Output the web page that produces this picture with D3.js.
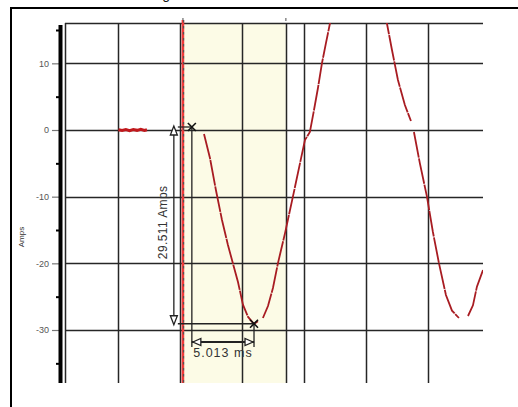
<!DOCTYPE html>
<html>
<head>
<meta charset="utf-8">
<script src="https://cdn.jsdelivr.net/npm/d3@7"></script>
<style>
  body { margin: 0; background: #fff; }
  svg { display: block; font-family: "Liberation Sans", Arial, sans-serif; }
</style>
</head>
<body>
<svg id="chart" width="518" height="407"></svg>
<script>
// waveform (null = gap in the trace)
const timeMs = [
  -5.0, -4.7, -4.4, -4.1, -3.8, -3.5, -3.2, -2.9, -2.7, -2.6,
  1.90, 2.38, 2.86, 3.35, 3.83, 4.23, 4.64, 5.04, 5.44, 5.93, 6.25, 6.4,
  6.65, 7.06, 7.46, 7.86, 8.43, 9.07, 9.64, 10.04, 10.44, 10.77, 11.09, 11.41, 11.73, 12.06,
  12.6, 13.4, 14.3, 15.2, 16.0,
  16.65, 17.06, 17.54, 18.10, 18.59, 18.7,
  18.83, 19.31, 19.88, 20.36, 20.85, 21.41, 21.90, 22.46, 22.8,
  23.19, 23.59, 23.91, 24.40
];
const amps = [
  0.05, -0.08, 0.06, -0.1, 0.08, -0.05, 0.1, -0.06, 0.04, null,
  -0.6, -4.2, -9, -13.5, -17.25, -20, -22.8, -26.2, -28, -29.1, -28.7, null,
  -28.2, -26.4, -23.7, -20, -15.5, -10, -5, -1.5, -0.3, 3, 6.3, 10, 13, 16,
  19.5, 23.5, 25.5, 23.5, 19.5,
  16, 12, 7.5, 3.75, 1.35, null,
  -0.3, -5, -10, -15.3, -20, -24.75, -27.1, -28.2, null,
  -27.9, -26.3, -23.5, -21
];

const yTicks = [-30, -20, -10, 0, 10];
const yMinorTicks = [-35, -25, -15, -5, 5, 15];
const xGridMs = [-5, 0, 5, 10, 15, 20];
const cursorMs = [0.2, 8.5];
const markerMs = [0.92, 5.933];
const markerAmps = [0.45, -29.061];
const deltaLabels = ["29.511 Amps", "5.013 ms"];

const plotLeft = 65, plotRight = 483, plotTop = 23, plotBottom = 383;

const x = d3.scaleLinear().domain([-9.31, 24.4]).range([plotLeft, plotRight]);
const y = d3.scaleLinear().domain([-37.95, 16.05]).range([plotBottom, plotTop]);

const svg = d3.select("#chart");

// cut-off title above the frame
svg.append("text")
    .attr("x", 170).attr("y", -1)
    .attr("text-anchor", "end")
    .style("font-size", "14px")
    .attr("fill", "#111")
    .text("Recording");

// outer frame
svg.append("rect")
    .attr("x", 11).attr("y", 8)
    .attr("width", 530).attr("height", 420)
    .attr("fill", "#fff")
    .attr("stroke", "#000")
    .attr("stroke-width", 2);

// shaded band between cursors
svg.append("rect")
    .attr("x", x(cursorMs[0])).attr("y", plotTop)
    .attr("width", x(cursorMs[1]) - x(cursorMs[0]))
    .attr("height", plotBottom - plotTop)
    .attr("fill", "#fcfbe6");

// grid
const grid = svg.append("g").attr("stroke", "#262626").attr("stroke-width", 1.5);
grid.selectAll("line.h")
    .data(yTicks.concat([y.domain()[1]]))
    .join("line")
    .attr("class", "h")
    .attr("x1", plotLeft).attr("x2", plotRight)
    .attr("y1", d => Math.round(y(d)) + 0.5)
    .attr("y2", d => Math.round(y(d)) + 0.5);
grid.selectAll("line.v")
    .data(xGridMs.concat([cursorMs[1]]))
    .join("line")
    .attr("class", "v")
    .attr("x1", d => Math.round(x(d)) + 0.5)
    .attr("x2", d => Math.round(x(d)) + 0.5)
    .attr("y1", plotTop).attr("y2", plotBottom);
grid.append("line")
    .attr("x1", plotLeft + 0.5).attr("x2", plotLeft + 0.5)
    .attr("y1", plotTop).attr("y2", plotBottom);

// cursor markers above the plot
svg.append("g").selectAll("line")
    .data(cursorMs)
    .join("line")
    .attr("x1", d => x(d)).attr("x2", d => x(d))
    .attr("y1", 18).attr("y2", 21)
    .attr("stroke", "#888").attr("stroke-width", 1.5);

// first cursor: red with grey dashes
svg.append("line")
    .attr("x1", x(cursorMs[0])).attr("x2", x(cursorMs[0]))
    .attr("y1", 20).attr("y2", plotBottom)
    .attr("stroke", "#f03a3a").attr("stroke-width", 2.6);
svg.append("line")
    .attr("x1", x(cursorMs[0]) + 0.6).attr("x2", x(cursorMs[0]) + 0.6)
    .attr("y1", 20).attr("y2", plotBottom)
    .attr("stroke", "#555").attr("stroke-width", 1.2)
    .attr("stroke-dasharray", "2.5,3.5");

// y axis
const axisX = 60;
const yAxis = svg.append("g")
    .attr("transform", `translate(${axisX},0)`)
    .call(d3.axisLeft(y).tickValues(yTicks).tickSize(8).tickPadding(3).tickFormat(d => String(d)));
yAxis.select(".domain").remove();
yAxis.selectAll(".tick line").attr("stroke", "#777").attr("stroke-width", 1.2);
yAxis.selectAll(".tick text")
    .attr("fill", "#555")
    .style("font-size", "9px")
    .style("font-family", "'Liberation Sans', Arial, sans-serif");

const yMinor = svg.append("g")
    .attr("transform", `translate(${axisX},0)`)
    .call(d3.axisLeft(y).tickValues(yMinorTicks).tickSize(4).tickFormat(""));
yMinor.select(".domain").remove();
yMinor.selectAll(".tick line").attr("stroke", "#000").attr("stroke-width", 2);

svg.append("line")
    .attr("x1", axisX + 0.5).attr("x2", axisX + 0.5)
    .attr("y1", 25).attr("y2", plotBottom)
    .attr("stroke", "#000").attr("stroke-width", 4);

svg.append("text")
    .attr("transform", "translate(24,237) rotate(-90)")
    .attr("text-anchor", "middle")
    .attr("fill", "#333")
    .style("font-size", "8px")
    .text("Amps");

// waveform
svg.append("clipPath").attr("id", "plotClip")
    .append("rect")
    .attr("x", plotLeft).attr("y", plotTop)
    .attr("width", plotRight - plotLeft).attr("height", plotBottom - plotTop);

const pts = timeMs.map((t, i) => [t, amps[i]]);
const line = d3.line()
    .defined(d => d[1] !== null)
    .x(d => x(d[0]))
    .y(d => y(d[1]));

svg.append("path")
    .datum(pts.slice(0, 10))
    .attr("clip-path", "url(#plotClip)")
    .attr("fill", "none")
    .attr("stroke", "#c0181c")
    .attr("stroke-width", 3)
    .attr("d", line);

svg.append("path")
    .datum(pts.slice(10))
    .attr("clip-path", "url(#plotClip)")
    .attr("fill", "none")
    .attr("stroke", "#a81c22")
    .attr("stroke-width", 1.8)
    .attr("stroke-dasharray", "26,0.8")
    .attr("d", line);

// measurement annotation
const mx1 = x(markerMs[0]), mx2 = x(markerMs[1]);
const my1 = y(markerAmps[0]), my2 = y(markerAmps[1]);
const dimX = mx1 - 18;
const dimY = 342;
const ann = svg.append("g").attr("stroke", "#222").attr("stroke-width", 1.3).attr("fill", "none");

ann.append("line").attr("x1", dimX).attr("x2", dimX).attr("y1", my1 + 2).attr("y2", my2 - 2);
ann.append("line").attr("x1", dimX + 4).attr("x2", mx1).attr("y1", my1).attr("y2", my1);
ann.append("line").attr("x1", dimX + 4).attr("x2", mx2).attr("y1", my2).attr("y2", my2);
ann.append("path")
    .attr("fill", "#fff")
    .attr("d", `M${dimX},${my1 - 1}L${dimX - 3.5},${my1 + 8}L${dimX + 3.5},${my1 + 8}Z`);
ann.append("path")
    .attr("fill", "#fff")
    .attr("d", `M${dimX},${my2 + 1}L${dimX - 3.5},${my2 - 8}L${dimX + 3.5},${my2 - 8}Z`);

ann.append("line").attr("x1", mx1).attr("x2", mx1).attr("y1", my1).attr("y2", dimY + 5);
ann.append("line").attr("x1", mx2).attr("x2", mx2).attr("y1", my2).attr("y2", dimY + 5);
ann.append("line").attr("x1", mx1).attr("x2", mx2).attr("y1", dimY).attr("y2", dimY).attr("stroke-width", 1.8);
ann.append("path")
    .attr("fill", "#fff")
    .attr("d", `M${mx1 + 1},${dimY}L${mx1 + 9},${dimY - 3.5}L${mx1 + 9},${dimY + 3.5}Z`);
ann.append("path")
    .attr("fill", "#fff")
    .attr("d", `M${mx2 - 1},${dimY}L${mx2 - 9},${dimY - 3.5}L${mx2 - 9},${dimY + 3.5}Z`);

// x markers
svg.append("g").selectAll("path")
    .data(markerMs.map((t, i) => [x(t), y(markerAmps[i])]))
    .join("path")
    .attr("d", d => `M${d[0] - 4},${d[1] - 4}L${d[0] + 4},${d[1] + 4}M${d[0] - 4},${d[1] + 4}L${d[0] + 4},${d[1] - 4}`)
    .attr("stroke", "#111").attr("stroke-width", 1.6);

svg.append("text")
    .attr("transform", `translate(${dimX - 7},${(my1 + my2) / 2 - 3}) rotate(-90)`)
    .attr("text-anchor", "middle")
    .attr("fill", "#333")
    .style("font-size", "12px")
    .style("letter-spacing", "0.4px")
    .text(deltaLabels[0]);

svg.append("text")
    .attr("x", (mx1 + mx2) / 2).attr("y", dimY + 15)
    .attr("text-anchor", "middle")
    .attr("fill", "#333")
    .style("font-size", "12.5px")
    .style("letter-spacing", "1px")
    .text(deltaLabels[1]);
</script>
</body>
</html>
